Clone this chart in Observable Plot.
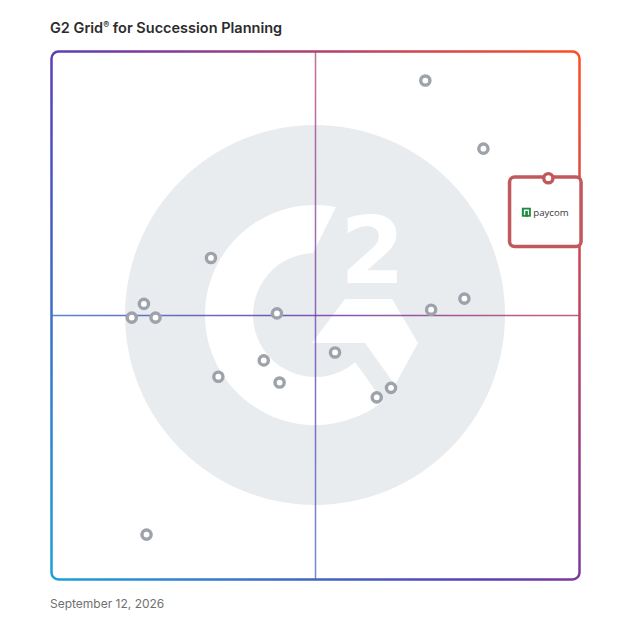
<!DOCTYPE html>
<html><head><meta charset="utf-8">
<script src="https://cdn.jsdelivr.net/npm/d3@7"></script>
<script src="https://cdn.jsdelivr.net/npm/@observablehq/plot@0.6"></script>
<style>
html,body{margin:0;padding:0;background:#fff;}
#wrap{position:relative;width:628px;height:628px;font-family:Inter,"Open Sans",sans-serif;}
#chart{position:absolute;left:0;top:0;}
#title{position:absolute;left:50px;top:19px;font-size:14.5px;font-weight:600;color:#2c2c2c;white-space:nowrap;}
#title .reg{font-size:9px;vertical-align:5px;}
#date{position:absolute;left:50px;top:596px;font-size:12px;color:#707070;white-space:nowrap;}
</style></head><body>
<div id="wrap"><div id="chart"></div>
<div id="title">G2 Grid<span class="reg">®</span> for Succession Planning</div>
<div id="date">September 12, 2026</div></div>
<script>
// Satisfaction (x) and Market Presence (y), 0–100
const satisfaction   = [70.8, 81.8, 30.2, 17.5, 15.2, 19.7, 42.7, 71.9, 78.2, 40.2, 53.7, 31.6, 43.2, 64.3, 61.6, 18.0];
const marketPresence = [94.5, 81.6, 60.9, 52.2, 49.6, 49.6, 50.4, 51.1, 53.2, 41.5, 43.0, 38.4, 37.3, 36.3, 34.5, 8.5];
const featuredName = ["paycom"];
const featuredSatisfaction = [94.1];
const featuredPresence = [76.0];

const products = satisfaction.map((x, i) => ({x, y: marketPresence[i]}));
const featured = featuredName.map((name, i) => ({name, x: featuredSatisfaction[i], y: featuredPresence[i]}));

function gradientDefs(index, {x, y}) {
  const defs = d3.create("svg:defs");
  const x0 = x(0), y0 = y(0), w = x(100) - x(0), h = y(0) - y(100);
  const lg = defs.append("linearGradient").attr("id", "g2grad")
    .attr("gradientUnits", "userSpaceOnUse")
    .attr("x1", x0).attr("y1", y0)
    .attr("x2", x0 + w * 1.089).attr("y2", y0 - h * 0.89);
  [[0, "#1e9fd9"], [0.45, "#5a3fb3"], [0.55, "#7b399f"], [1, "#ff4d22"]]
    .forEach(([o, c]) => lg.append("stop").attr("offset", o).attr("stop-color", c));
  return defs.node();
}

function intersect(p, d, rho) {
  const a = d[0]*d[0] + d[1]*d[1], b = 2*(p[0]*d[0] + p[1]*d[1]), c = p[0]*p[0] + p[1]*p[1] - rho*rho;
  const disc = Math.sqrt(Math.max(0, b*b - 4*a*c));
  const t1 = (-b + disc) / (2*a), t2 = (-b - disc) / (2*a);
  const t = Math.abs(t1) < Math.abs(t2) ? t1 : t2;
  return [p[0] + t*d[0], p[1] + t*d[1]];
}

function watermark(index, {x, y}) {
  const cx = x(50), cy = y(50), s = (x(100) - x(0)) / 528;
  const g = d3.create("svg:g").attr("transform", `translate(${cx},${cy}) scale(${s})`);
  g.append("circle").attr("r", 190).attr("fill", "#e9ecef");
  const R = 110, r = 62;
  const topP = [10, -86], topD = [-24, 48];
  const brP = [40, 47], brD = [30, 42];
  const oT = intersect(topP, topD, R), iT = intersect(topP, topD, r);
  const oB = intersect(brP, brD, R), iB = intersect(brP, brD, r);
  g.append("path").attr("fill", "white")
    .attr("d", `M${oT}A${R},${R} 0 1 0 ${oB}L${iB}A${r},${r} 0 1 1 ${iT}Z`);
  g.append("path").attr("fill", "white")
    .attr("d", "M-3,28L30,-16L77,-16L103,28L80,70L50,28Z");
  g.append("text").attr("x", 57.5).attr("y", -32).attr("text-anchor", "middle")
    .attr("font-family", "DejaVu Sans").attr("font-weight", "bold").attr("font-size", 93)
    .attr("fill", "white").text("2");
  return g.node();
}

function featuredBox(index, {x, y}) {
  const g = d3.create("svg:g");
  for (const d of featured) {
    const px = x(d.x), py = y(d.y);
    g.append("rect").attr("x", px - 38.3).attr("y", py - 0.8)
      .attr("width", 71.5).attr("height", 69.5).attr("rx", 5)
      .attr("fill", "white").attr("stroke", "#c1585b").attr("stroke-width", 3.5);
    const lg = g.append("g").attr("transform", `translate(${px - 26},${py + 30})`);
    lg.append("rect").attr("width", 9).attr("height", 9).attr("fill", "#1c8b3f");
    lg.append("rect").attr("x", 2).attr("y", 1.8).attr("width", 5.2).attr("height", 5.4).attr("fill", "white");
    lg.append("rect").attr("x", 3.4).attr("y", 3.2).attr("width", 2.6).attr("height", 5.8).attr("fill", "#1c8b3f");
    lg.append("text").attr("x", 11.5).attr("y", 8.3).attr("text-anchor", "start")
      .attr("font-family", "Open Sans, sans-serif").attr("font-size", 9.6)
      .attr("fill", "#3a3a3a").text(d.name);
  }
  return g.node();
}

const chart = Plot.plot({
  width: 628, height: 628,
  marginTop: 51, marginLeft: 51, marginRight: 49, marginBottom: 49,
  x: {domain: [0, 100], axis: null},
  y: {domain: [0, 100], axis: null},
  marks: [
    gradientDefs,
    watermark,
    Plot.ruleX([50], {stroke: "url(#g2grad)", strokeWidth: 1.5, strokeOpacity: 0.75}),
    Plot.ruleY([50], {stroke: "url(#g2grad)", strokeWidth: 1.5, strokeOpacity: 0.85}),
    Plot.frame({stroke: "url(#g2grad)", strokeWidth: 2.5, rx: 7}),
    Plot.dot(products, {x: "x", y: "y", r: 4.6, stroke: "#9ea2ab", strokeWidth: 3.4, fill: "white"}),
    featuredBox,
    Plot.dot(featured, {x: "x", y: "y", r: 4.6, stroke: "#c1585b", strokeWidth: 3.4, fill: "white"})
  ]
});
document.getElementById("chart").appendChild(chart);
</script>
</body></html>
